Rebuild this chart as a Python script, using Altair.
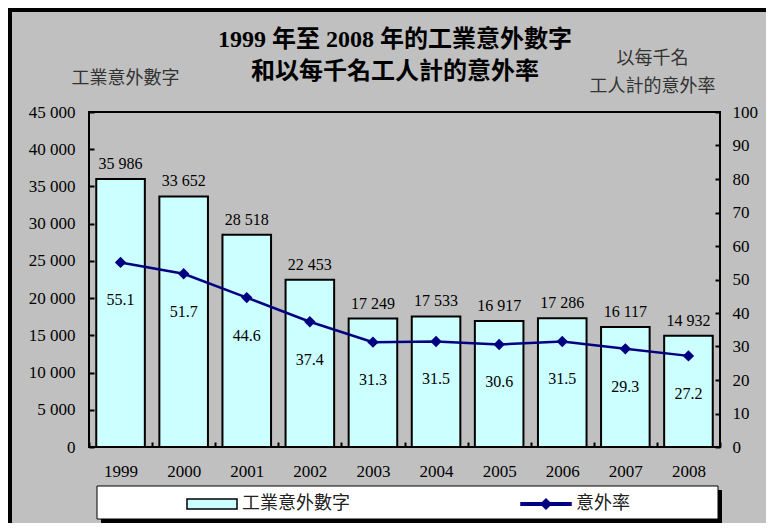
import altair as alt
import pandas as pd

# ---- data ----
years = ["1999", "2000", "2001", "2002", "2003", "2004", "2005", "2006", "2007", "2008"]
accidents = [35986, 33652, 28518, 22453, 17249, 17533, 16917, 17286, 16117, 14932]
rates = [55.1, 51.7, 44.6, 37.4, 31.3, 31.5, 30.6, 31.5, 29.3, 27.2]
legend_names = ["工業意外數字", "意外率"]
left_ticks = [0, 5000, 10000, 15000, 20000, 25000, 30000, 35000, 40000, 45000]
right_ticks = [0, 10, 20, 30, 40, 50, 60, 70, 80, 90, 100]
title_lines = ["1999 年至 2008 年的工業意外數字", "和以每千名工人計的意外率"]
left_title = "工業意外數字"
right_title = ["以每千名", "工人計的意外率"]

SERIF = "Liberation Serif, Times New Roman, Noto Sans CJK TC"
CJK = "Noto Sans CJK TC, Liberation Serif"
BAR_FILL = "#CCFFFF"
LINE = "#000080"

df = pd.DataFrame({"year": years, "accidents": accidents, "rate": rates})
leg_df = pd.DataFrame({"name": legend_names})
one = pd.DataFrame({"k": [0]})

W, H = 631, 335

x_enc = alt.X(
    "year:O",
    sort=years,
    scale=alt.Scale(paddingInner=0, paddingOuter=0),
    axis=alt.Axis(
        title=None, labelAngle=0, domain=False, tickBand="extent",
        offset=-5, tickSize=5, tickWidth=2, tickColor="black",
        labelPadding=16, labelFont=SERIF, labelFontSize=17, labelColor="black",
    ),
)

y_left = alt.Y(
    "accidents:Q",
    scale=alt.Scale(domain=[0, 45000], nice=False),
    axis=alt.Axis(
        orient="left", values=left_ticks,
        labelExpr="replace(format(datum.value, ','), ',', ' ')",
        domain=False, grid=False, offset=-5, tickSize=5, tickWidth=2,
        tickColor="black", labelPadding=14, labelFont=SERIF, labelFontSize=17,
        labelColor="black",
        title=left_title, titleAngle=0, titleX=31, titleY=-34,
        titleAlign="center", titleBaseline="middle", titleFont=CJK,
        titleFontSize=18, titleFontWeight="normal", titleColor="#333333",
    ),
)

y_right = alt.Y(
    "rate:Q",
    scale=alt.Scale(domain=[0, 100], nice=False),
    axis=alt.Axis(
        orient="right", values=right_ticks,
        domain=False, grid=False, offset=-5, tickSize=5, tickWidth=2,
        tickColor="black", labelPadding=12, labelFont=SERIF, labelFontSize=17,
        labelColor="black",
        title=right_title, titleAngle=0, titleX=-63, titleY=-54,
        titleAlign="center", titleBaseline="middle", titleFont=CJK,
        titleFontSize=18, titleFontWeight="normal", titleColor="#333333",
        titleLineHeight=28,
    ),
)

base = alt.Chart(df)

bars = base.mark_bar(
    fill=BAR_FILL, stroke="black", strokeWidth=2,
    width=alt.RelativeBandSize(0.77),
).encode(x=x_enc, y=y_left)

bar_text = base.transform_calculate(
    lab="replace(format(datum.accidents, ','), ',', ' ')"
).mark_text(
    baseline="bottom", dy=-7, font=SERIF, fontSize=16, color="black"
).encode(x=x_enc, y=y_left, text="lab:N")

left = alt.layer(bars, bar_text)

line = base.mark_line(color=LINE, strokeWidth=2.5).encode(x=x_enc, y=y_right)
points = base.mark_point(
    shape="diamond", filled=True, color=LINE, size=130, opacity=1
).encode(x=x_enc, y=y_right)
rate_text = base.mark_text(
    baseline="middle", dy=38, font=SERIF, fontSize=16, color="black"
).encode(x=x_enc, y=y_right, text=alt.Text("rate:Q", format=".1f"))

right = alt.layer(line, points, rate_text)

# chart title (two lines, centred as in the reference)
title = alt.Chart(one).mark_text(
    text=title_lines, font=SERIF, fontSize=24, fontWeight="bold",
    color="black", align="center", baseline="middle", lineHeight=32,
).encode(x=alt.value(306), y=alt.value(-72))

# legend frame (shadow + white box)
shadow = alt.Chart(one).mark_rect(fill="black").encode(
    x=alt.value(12), x2=alt.value(633), y=alt.value(378), y2=alt.value(411)
)
box = alt.Chart(one).mark_rect(fill="white", stroke="black", strokeWidth=1).encode(
    x=alt.value(8), x2=alt.value(629), y=alt.value(374), y2=alt.value(407)
)

# outer frame lines (top and left)
frame_top = alt.Chart(one).mark_rule(color="black", strokeWidth=4).encode(
    x=alt.value(-81), x2=alt.value(677), y=alt.value(-102)
)
frame_left = alt.Chart(one).mark_rule(color="black", strokeWidth=4).encode(
    x=alt.value(-79), y=alt.value(-104), y2=alt.value(411)
)

bar_sym = "M-1,-0.2H1V0.2H-1Z"
line_sym = "M-1,-0.05H1V0.05H-1Z M0,-0.2L0.2,0L0,0.2L-0.2,0Z"

leg = alt.Legend(
    title=None, orient="none", legendX=97, legendY=366, direction="horizontal",
    symbolSize=2500, symbolStrokeWidth=1.5, labelOffset=4,
    columnPadding=168, gridAlign="none",
    labelFont=CJK, labelFontSize=18, labelColor="#222222", padding=0,
)
legend_layer = alt.Chart(leg_df).transform_filter("false").mark_point(
    filled=True, opacity=1
).encode(
    fill=alt.Fill("name:N", scale=alt.Scale(domain=legend_names, range=[BAR_FILL, LINE]), legend=leg),
    stroke=alt.Stroke("name:N", scale=alt.Scale(domain=legend_names, range=["black", LINE]), legend=leg),
    shape=alt.Shape("name:N", scale=alt.Scale(domain=legend_names, range=[bar_sym, line_sym]), legend=leg),
)

chart = alt.layer(
    shadow, box, left, right, legend_layer, title, frame_top, frame_left
).resolve_scale(
    y="independent"
).properties(
    width=W, height=H,
    background="#C0C0C0",
    padding={"left": 81, "top": 104, "right": 46, "bottom": 76},
    autosize=alt.AutoSizeParams(type="none"),
).configure_view(
    fill="#FFFF99", stroke="black", strokeWidth=2
)

chart.save("out.html", embed_options={"renderer": "svg", "actions": False})
